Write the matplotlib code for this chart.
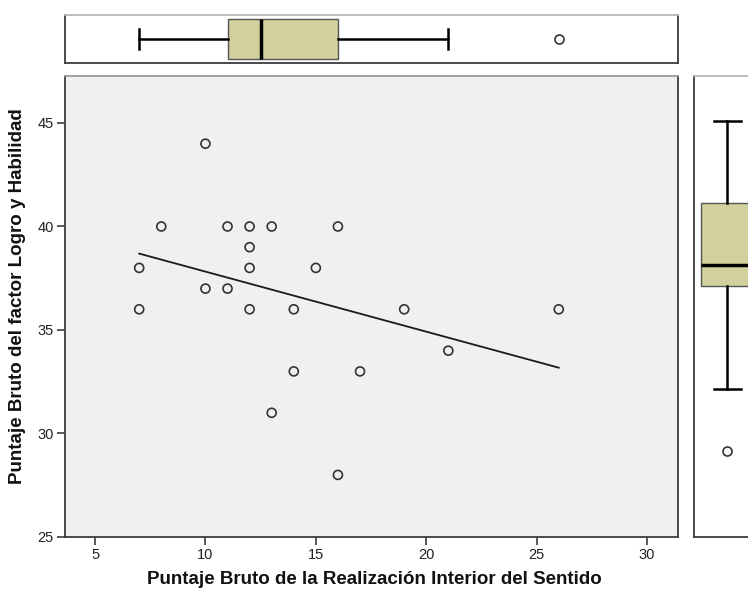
import numpy as np
import matplotlib
matplotlib.use("Agg")
import matplotlib.pyplot as plt

plt.rcParams['font.family'] = ['Liberation Sans', 'DejaVu Sans']

# Data
x_vals = [10, 8, 11, 12, 13, 16, 12, 7, 12, 15, 10, 11, 7, 12, 14, 19, 26, 21, 14, 17, 13, 16]
y_vals = [44, 40, 40, 40, 40, 40, 39, 38, 38, 38, 37, 37, 36, 36, 36, 36, 36, 34, 33, 33, 31, 28]
x_ticks = [5, 10, 15, 20, 25, 30]
y_ticks = [25, 30, 35, 40, 45]
x_label = "Puntaje Bruto de la Realización Interior del Sentido"
y_label = "Puntaje Bruto del factor Logro y Habilidad"

x = np.array(x_vals, dtype=float)
y = np.array(y_vals, dtype=float)

def tukey_stats(d):
    s = np.sort(d)
    n = len(s)
    med = np.median(s)
    lo = s[:(n + 1) // 2]
    hi = s[n - len(lo):]
    q1, q3 = np.median(lo), np.median(hi)
    iqr = q3 - q1
    lf, uf = q1 - 1.5 * iqr, q3 + 1.5 * iqr
    inside = s[(s >= lf) & (s <= uf)]
    fl = s[(s < lf) | (s > uf)]
    return dict(med=med, q1=q1, q3=q3, whislo=inside.min(), whishi=inside.max(), fliers=fl)

W, H = 748, 594
fig = plt.figure(figsize=(W / 100, H / 100), dpi=100)

def ax_px(l, t, r, b):
    return fig.add_axes([l / W, 1 - b / H, (r - l) / W, (b - t) / H])

box_face = '#D2D09C'
dark = '#3c3c3c'
light = '#b8b8b8'

# Main scatter
ax = ax_px(65, 76, 678, 537)
ax.set_facecolor('#F0F0F0')
ax.scatter(x, y, s=42, facecolors='none', edgecolors='#333333', linewidths=1.2, zorder=3)
b1, b0 = np.polyfit(x, y, 1)
xl = np.array([x.min(), x.max()])
ax.plot(xl, b0 + b1 * xl, color='#1a1a1a', lw=1.3, zorder=2)
ax.set_xlim(3.64, 31.4)
ax.set_ylim(25, 47.27)
ax.set_xticks(x_ticks)
ax.set_yticks(y_ticks)
ax.tick_params(direction='out', length=6, width=1.2, color=dark, labelsize=10.5,
               labelcolor='#222222', pad=2)
for k in ['left', 'bottom', 'right']:
    ax.spines[k].set_color(dark)
    ax.spines[k].set_linewidth(1.3)
ax.spines['top'].set_color('#9a9a9a')
ax.spines['top'].set_linewidth(1.3)
ax.set_xlabel(x_label, fontsize=13.5, fontweight='bold', color='#111111', va='center')
ax.set_ylabel(y_label, fontsize=13.5, fontweight='bold', color='#111111', va='center')
ax.xaxis.set_label_coords((374 - 65) / 613, (537 - 580) / 461)
ax.yaxis.set_label_coords((18 - 65) / 613, (537 - 296) / 461)

# Top boxplot
axt = ax_px(65, 15, 678, 63)
st = tukey_stats(x)
axt.bxp([st], positions=[0.5], widths=0.85, vert=False, patch_artist=True,
        showfliers=True,
        boxprops=dict(facecolor=box_face, edgecolor='#555555', linewidth=1.0),
        medianprops=dict(color='black', linewidth=2.5),
        whiskerprops=dict(color='black', linewidth=1.8),
        capprops=dict(color='black', linewidth=1.8),
        capwidths=0.4,
        flierprops=dict(marker='o', markersize=6.5, markerfacecolor='none',
                        markeredgecolor='#333333', markeredgewidth=1.2))
axt.set_xlim(3.64, 31.4)
axt.set_ylim(0, 1)
axt.set_xticks([])
axt.set_yticks([])
for k in ['left', 'bottom', 'right']:
    axt.spines[k].set_color(dark)
    axt.spines[k].set_linewidth(1.3)
axt.spines['top'].set_color(light)
axt.spines['top'].set_linewidth(1.3)

# Right boxplot
axr = ax_px(694, 76, 764, 537)
sr = tukey_stats(y)
axr.bxp([sr], positions=[0.476], widths=0.75, vert=True, patch_artist=True,
        showfliers=True,
        boxprops=dict(facecolor=box_face, edgecolor='#555555', linewidth=1.0),
        medianprops=dict(color='black', linewidth=2.5),
        whiskerprops=dict(color='black', linewidth=1.8),
        capprops=dict(color='black', linewidth=1.8),
        capwidths=0.38,
        flierprops=dict(marker='o', markersize=6.5, markerfacecolor='none',
                        markeredgecolor='#333333', markeredgewidth=1.2))
axr.set_xlim(0, 1)
axr.set_ylim(23.85, 46.16)
axr.set_xticks([])
axr.set_yticks([])
for k in ['left', 'bottom', 'right']:
    axr.spines[k].set_color(dark)
    axr.spines[k].set_linewidth(1.3)
axr.spines['top'].set_color(light)
axr.spines['top'].set_linewidth(1.3)

fig.savefig('out.png', dpi=100, facecolor='white')
